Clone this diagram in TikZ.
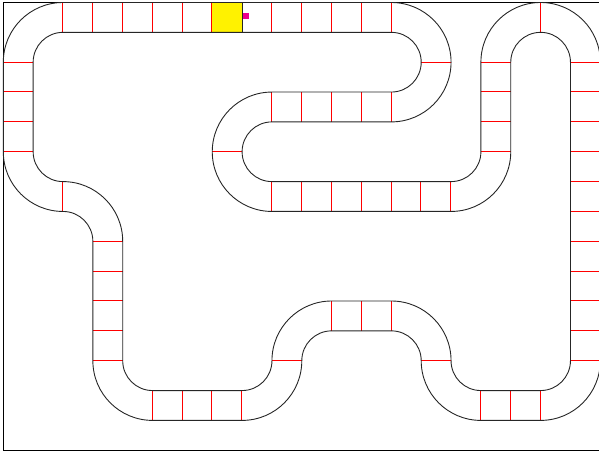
\documentclass[tikz,border=0pt]{standalone}
\tikzset{
  edge/.style={black!85, line width=0.9pt},
  sep/.style={red, line width=1pt},
  frameline/.style={black, line width=1pt}
}
% vertical separator at grid column #1 spanning row #2 .. #2+1 (snapped to pixels)
\newcommand\trkV[2]{%
  \pgfmathsetmacro\tkx{floor(3.0+29.85*#1)+0.5}%
  \pgfmathsetmacro\tkya{2.5+29.85*#2}%
  \pgfmathsetmacro\tkyb{2.5+29.85*(#2+1)}%
  \draw[sep] (\tkx,-\tkya) -- (\tkx,-\tkyb);}
% horizontal separator at grid row #2 spanning column #1 .. #1+1
\newcommand\trkH[2]{%
  \pgfmathsetmacro\tky{floor(2.4+29.85*#2)+0.5}%
  \pgfmathsetmacro\tkxa{3.3+29.85*#1}%
  \pgfmathsetmacro\tkxb{3.3+29.85*(#1+1)}%
  \draw[sep] (\tkxa,-\tky) -- (\tkxb,-\tky);}
\begin{document}
\begin{tikzpicture}[x=1pt,y=1pt]
\useasboundingbox (0,0) rectangle (599,-454);
\clip (0,0) rectangle (599,-454);
\draw[frameline] (3.5,-2.5) rectangle (600.3,-450.5);
% start tile
\begin{scope}[shift={(3.3pt,-2.5pt)}, x=29.85pt, y=29.85pt]
  \fill[yellow] (7,0) rectangle (8,-1);
\end{scope}
% tile separators
\foreach \i in {2,...,7,9,10,11,12,13} {\trkV{\i}{0}}
\trkH{14}{2}
\foreach \i in {9,...,13} {\trkV{\i}{3}}
\trkH{7}{5}
\foreach \i in {9,...,15} {\trkV{\i}{6}}
\foreach \j in {2,...,5} {\trkH{16}{\j}}
\trkV{18}{0}
\foreach \j in {2,...,12} {\trkH{19}{\j}}
\foreach \i in {16,17,18} {\trkV{\i}{13}}
\trkH{14}{12}
\foreach \i in {11,12,13} {\trkV{\i}{10}}
\trkH{9}{12}
\foreach \i in {5,...,8} {\trkV{\i}{13}}
\foreach \j in {8,...,12} {\trkH{3}{\j}}
\trkV{2}{6}
\foreach \j in {2,...,5} {\trkH{0}{\j}}
\begin{scope}[shift={(3.3pt,-2.5pt)}, x=29.85pt, y=29.85pt]
  \draw[edge] (8,0) -- (8,-1);
  % track boundary A
  \draw[edge] (2,0) -- (13,0) arc[start angle=90,end angle=-90,radius=2]
    -- (9,-4) arc[start angle=90,end angle=270,radius=1]
    -- (15,-6) arc[start angle=-90,end angle=0,radius=1]
    -- (16,-2) arc[start angle=180,end angle=0,radius=2]
    -- (20,-12) arc[start angle=0,end angle=-90,radius=2]
    -- (16,-14) arc[start angle=-90,end angle=-180,radius=2]
    arc[start angle=0,end angle=90,radius=1]
    -- (11,-11) arc[start angle=90,end angle=180,radius=1]
    arc[start angle=0,end angle=-90,radius=2]
    -- (5,-14) arc[start angle=-90,end angle=-180,radius=2]
    -- (3,-8) arc[start angle=0,end angle=90,radius=1]
    arc[start angle=-90,end angle=-180,radius=2]
    -- (0,-2) arc[start angle=180,end angle=90,radius=2] -- cycle;
  % track boundary B
  \draw[edge] (2,-1) -- (13,-1) arc[start angle=90,end angle=-90,radius=1]
    -- (9,-3) arc[start angle=90,end angle=270,radius=2]
    -- (15,-7) arc[start angle=-90,end angle=0,radius=2]
    -- (17,-2) arc[start angle=180,end angle=0,radius=1]
    -- (19,-12) arc[start angle=0,end angle=-90,radius=1]
    -- (16,-13) arc[start angle=-90,end angle=-180,radius=1]
    arc[start angle=0,end angle=90,radius=2]
    -- (11,-10) arc[start angle=90,end angle=180,radius=2]
    arc[start angle=0,end angle=-90,radius=1]
    -- (5,-13) arc[start angle=-90,end angle=-180,radius=1]
    -- (4,-8) arc[start angle=0,end angle=90,radius=2]
    arc[start angle=-90,end angle=-180,radius=1]
    -- (1,-2) arc[start angle=180,end angle=90,radius=1] -- cycle;
\end{scope}
\fill[magenta] (243,-13) rectangle (249,-19);
\end{tikzpicture}
\end{document}
